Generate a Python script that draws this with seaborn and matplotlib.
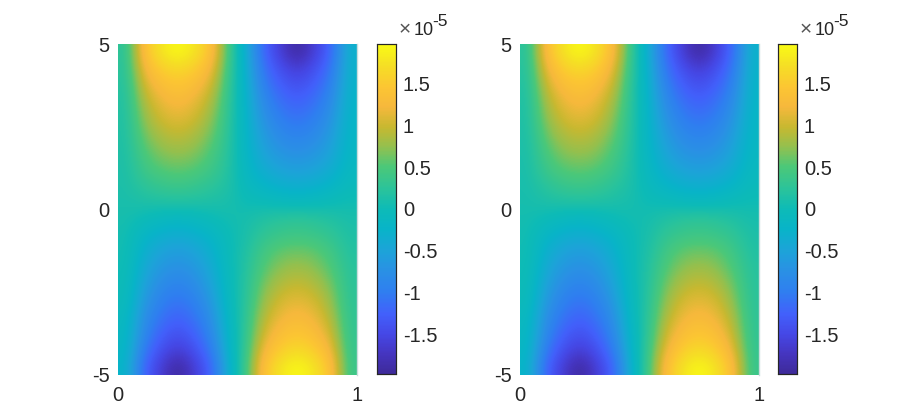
import numpy as np
import seaborn as sns
from matplotlib import pyplot as plt
from matplotlib.colors import LinearSegmentedColormap

# values in units of 1e-5, rows run from y=5 down to y=-5, columns from x=0 to x=1
field_left = [
    [0.22, 1.42, 1.78, 1.97, 1.78, 1.42, 0.40, -0.35, -1.20, -1.60, -1.97, -1.60, -1.22, -0.28],
    [0.20, 1.22, 1.55, 1.66, 1.55, 1.22, 0.35, -0.30, -1.08, -1.42, -1.62, -1.42, -1.08, -0.26],
    [0.18, 1.02, 1.33, 1.45, 1.33, 1.02, 0.30, -0.27, -0.95, -1.27, -1.42, -1.27, -0.95, -0.24],
    [0.16, 0.86, 1.15, 1.28, 1.15, 0.86, 0.27, -0.24, -0.82, -1.12, -1.25, -1.12, -0.82, -0.22],
    [0.15, 0.74, 1.02, 1.12, 1.02, 0.74, 0.24, -0.22, -0.71, -0.98, -1.10, -0.98, -0.71, -0.20],
    [0.14, 0.62, 0.86, 0.95, 0.86, 0.62, 0.22, -0.20, -0.60, -0.84, -0.93, -0.84, -0.60, -0.18],
    [0.13, 0.50, 0.71, 0.78, 0.71, 0.50, 0.20, -0.18, -0.50, -0.69, -0.76, -0.69, -0.50, -0.16],
    [0.12, 0.40, 0.55, 0.60, 0.55, 0.40, 0.18, -0.14, -0.38, -0.52, -0.58, -0.52, -0.38, -0.12],
    [0.12, 0.26, 0.35, 0.40, 0.35, 0.26, 0.15, -0.08, -0.22, -0.32, -0.36, -0.32, -0.22, -0.06],
    [0.10, 0.14, 0.17, 0.18, 0.17, 0.14, 0.10, 0.00, -0.02, -0.08, -0.10, -0.08, -0.02, 0.03],
    [0.08, 0.00, -0.08, -0.12, -0.08, 0.00, 0.06, 0.08, 0.16, 0.22, 0.25, 0.22, 0.16, 0.10],
    [0.06, -0.18, -0.30, -0.36, -0.30, -0.18, 0.00, 0.10, 0.28, 0.36, 0.40, 0.36, 0.28, 0.14],
    [0.05, -0.30, -0.50, -0.58, -0.50, -0.30, -0.02, 0.15, 0.42, 0.58, 0.62, 0.58, 0.42, 0.18],
    [0.03, -0.40, -0.65, -0.75, -0.65, -0.40, -0.03, 0.18, 0.52, 0.72, 0.80, 0.72, 0.52, 0.22],
    [0.00, -0.50, -0.80, -0.92, -0.80, -0.50, -0.05, 0.20, 0.65, 0.88, 0.97, 0.88, 0.65, 0.24],
    [-0.02, -0.62, -0.95, -1.08, -0.95, -0.62, -0.08, 0.22, 0.76, 1.04, 1.13, 1.04, 0.76, 0.26],
    [-0.08, -0.75, -1.08, -1.25, -1.08, -0.75, -0.12, 0.25, 0.88, 1.18, 1.30, 1.18, 0.88, 0.28],
    [-0.12, -0.85, -1.25, -1.42, -1.25, -0.85, -0.18, 0.28, 1.02, 1.35, 1.47, 1.35, 1.02, 0.30],
    [-0.15, -1.02, -1.42, -1.62, -1.42, -1.02, -0.22, 0.32, 1.22, 1.55, 1.68, 1.55, 1.22, 0.32],
    [-0.20, -1.22, -1.60, -1.97, -1.60, -1.22, -0.30, 0.38, 1.42, 1.78, 1.97, 1.78, 1.42, 0.35],
]
field_right = [
    [0.20, 1.36, 1.76, 1.97, 1.76, 1.32, 0.32, -0.33, -1.16, -1.60, -1.97, -1.60, -1.18, -0.26],
    [0.18, 1.16, 1.55, 1.66, 1.55, 1.14, 0.28, -0.28, -1.05, -1.42, -1.62, -1.42, -1.05, -0.24],
    [0.16, 0.97, 1.33, 1.45, 1.33, 0.96, 0.24, -0.25, -0.92, -1.27, -1.42, -1.27, -0.92, -0.22],
    [0.14, 0.83, 1.15, 1.28, 1.15, 0.82, 0.22, -0.22, -0.80, -1.12, -1.25, -1.12, -0.80, -0.20],
    [0.13, 0.72, 1.02, 1.12, 1.02, 0.71, 0.20, -0.20, -0.69, -0.98, -1.10, -0.98, -0.69, -0.18],
    [0.12, 0.60, 0.86, 0.95, 0.86, 0.60, 0.18, -0.18, -0.58, -0.84, -0.93, -0.84, -0.58, -0.16],
    [0.11, 0.48, 0.71, 0.78, 0.71, 0.48, 0.16, -0.16, -0.48, -0.69, -0.76, -0.69, -0.48, -0.14],
    [0.10, 0.38, 0.55, 0.60, 0.55, 0.38, 0.14, -0.12, -0.36, -0.52, -0.58, -0.52, -0.36, -0.10],
    [0.09, 0.24, 0.35, 0.40, 0.35, 0.24, 0.12, -0.07, -0.22, -0.32, -0.36, -0.32, -0.22, -0.05],
    [0.08, 0.13, 0.17, 0.18, 0.17, 0.13, 0.08, 0.00, -0.02, -0.08, -0.10, -0.08, -0.02, 0.02],
    [0.06, 0.00, -0.08, -0.12, -0.08, 0.00, 0.05, 0.07, 0.15, 0.22, 0.25, 0.22, 0.15, 0.08],
    [0.05, -0.18, -0.30, -0.36, -0.30, -0.18, 0.00, 0.09, 0.28, 0.36, 0.40, 0.36, 0.28, 0.12],
    [0.04, -0.30, -0.50, -0.58, -0.50, -0.30, -0.02, 0.13, 0.40, 0.58, 0.62, 0.58, 0.40, 0.16],
    [0.03, -0.40, -0.65, -0.75, -0.65, -0.40, -0.03, 0.16, 0.50, 0.72, 0.80, 0.72, 0.50, 0.20],
    [0.00, -0.50, -0.80, -0.92, -0.80, -0.50, -0.05, 0.18, 0.62, 0.88, 0.97, 0.88, 0.62, 0.22],
    [-0.02, -0.62, -0.95, -1.08, -0.95, -0.62, -0.08, 0.20, 0.73, 1.04, 1.13, 1.04, 0.73, 0.24],
    [-0.08, -0.75, -1.08, -1.25, -1.08, -0.75, -0.12, 0.23, 0.85, 1.18, 1.30, 1.18, 0.85, 0.26],
    [-0.12, -0.85, -1.25, -1.42, -1.25, -0.85, -0.18, 0.26, 0.98, 1.35, 1.47, 1.35, 0.98, 0.28],
    [-0.15, -1.02, -1.42, -1.62, -1.42, -1.02, -0.22, 0.30, 1.16, 1.55, 1.68, 1.55, 1.16, 0.30],
    [-0.20, -1.22, -1.60, -1.97, -1.60, -1.22, -0.30, 0.36, 1.36, 1.76, 1.97, 1.76, 1.36, 0.33],
]
cbar_ticks = [1.5, 1, 0.5, 0, -0.5, -1, -1.5]
cbar_labels = ["1.5", "1", "0.5", "0", "-0.5", "-1", "-1.5"]
x_labels = ["0", "1"]
y_labels = ["5", "0", "-5"]
limit = 1.97

parula = LinearSegmentedColormap.from_list("parula", [
    (0.00, "#3e2a99"), (0.06, "#4535c0"), (0.12, "#4548e6"), (0.18, "#4260fb"),
    (0.25, "#2f7ff0"), (0.31, "#2a90e5"), (0.375, "#1ca4d8"), (0.44, "#08b4c8"),
    (0.50, "#0dbbb7"), (0.56, "#2ac39b"), (0.63, "#4cc878"), (0.69, "#94c04e"),
    (0.75, "#c8b830"), (0.81, "#f6b83c"), (0.87, "#fcc533"), (0.94, "#f5e024"),
    (1.00, "#f9fb15"),
])

sns.set_theme(style="white")
plt.rcParams["font.family"] = ["Liberation Sans", "DejaVu Sans"]
text_color = "#262626"
W, H = 911, 420


def box(x0, y0, x1, y1):
    return [x0 / W, 1 - y1 / H, (x1 - x0) / W, (y1 - y0) / H]


def panel(fig, field, x0, x1, cx0, cx1):
    ax = fig.add_axes(box(x0, 44, x1, 375))
    cax = fig.add_axes(box(cx0, 44, cx1, 374))
    grid = np.array(field)
    sns.heatmap(grid, ax=ax, cbar_ax=cax, cmap=parula, vmin=-limit, vmax=limit,
                xticklabels=False, yticklabels=False)
    # the original is interpolated shading, heatmap cells alone look blocky
    ax.imshow(grid, cmap=parula, vmin=-limit, vmax=limit, aspect="auto", zorder=2,
              interpolation="bicubic", extent=(0, grid.shape[1], grid.shape[0], 0))

    ax.set_xticks([0, grid.shape[1]], x_labels)
    ax.set_yticks([0, grid.shape[0] / 2, grid.shape[0]], y_labels)
    ax.tick_params(length=0, labelsize=14.5, labelcolor=text_color, pad=6)
    ax.tick_params(axis="x", pad=8)
    for side in ["left", "top", "bottom"]:
        ax.spines[side].set_visible(False)
    ax.spines["right"].set_visible(True)
    ax.spines["right"].set_color("#c9dcdc")
    ax.spines["right"].set_linewidth(1)

    cax.set_yticks(cbar_ticks, cbar_labels)
    cax.tick_params(direction="in", length=3, width=0.7, color=text_color,
                    labelsize=14.5, labelcolor=text_color, pad=5, right=True)
    for spine in cax.spines.values():
        spine.set_visible(True)
        spine.set_color(text_color)
        spine.set_linewidth(0.8)

    # colorbar exponent label
    fig.text((cx0 + 28) / W, 1 - 35 / H, "×", fontsize=15, color="#555555", ha="center")
    fig.text((cx0 + 37) / W, 1 - 35 / H, "10", fontsize=13, color=text_color)
    fig.text((cx0 + 55) / W, 1 - 26 / H, "-5", fontsize=12.5, color=text_color)


fig = plt.figure(figsize=(9.11, 4.2), dpi=100)
panel(fig, field_left, 118, 357, 377, 396)
panel(fig, field_right, 520, 759, 778, 797)
fig.savefig("out.png", dpi=100)
